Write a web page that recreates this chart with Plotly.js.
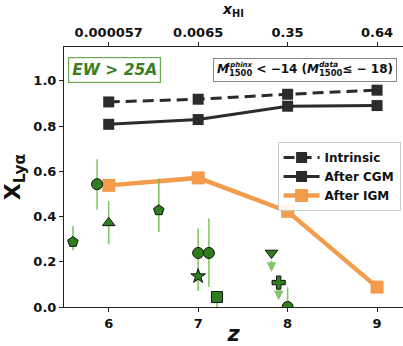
<!DOCTYPE html>
<html><head><meta charset="utf-8">
<script src="https://cdn.plot.ly/plotly-3.0.1.min.js"></script>
<style>html,body{margin:0;padding:0;background:#fff}#chart{width:403px;height:346px}</style>
</head><body><div id="chart"></div>
<script>
// ---- data ----
const zSim = [6, 7, 8, 9];
const intrinsic = [0.907, 0.919, 0.941, 0.959];
const afterCGM = [0.808, 0.829, 0.888, 0.891];
const afterIGM = [0.538, 0.571, 0.423, 0.088];
const topTickText = ["0.000057", "0.0065", "0.35", "0.64"];

const obsZ =     [5.60, 5.87, 6.00, 6.56, 7.00, 7.12, 7.00, 7.21, 7.82, 7.90, 8.00];
const obsX =     [0.288, 0.543, 0.372, 0.428, 0.239, 0.239, 0.136, 0.044, 0.239, 0.108, 0.000];
const obsErrUp = [0.069, 0.111, 0.097, 0.140, 0.108, 0.152, 0.000, 0.022, 0.000, 0.000, 0.087];
const obsErrDn = [0.037, 0.112, 0.095, 0.096, 0.168, 0.151, 0.000, 0.044, 0.000, 0.000, 0.000];
const obsSymbol = ["pentagon", "circle", "triangle-up", "pentagon", "circle", "circle", "star", "square", "triangle-down", "cross", "circle"];
// upper limits: [z, from, to]
const limZ = [7.82, 7.90];
const limFrom = [0.239, 0.108];
const limTo = [0.155, 0.030];

const FONT = "DejaVu Sans";
const green = "#2e7d1e";
const errGreen = "rgba(100,185,70,0.8)";
const orange = "#f39c4c";

const traces = [
  {x: zSim, y: intrinsic, name: "Intrinsic", mode: "lines+markers",
   line: {color: "#2b2b2b", width: 3, dash: "11px,6px"},
   marker: {symbol: "square", size: 11, color: "#2b2b2b"}},
  {x: zSim, y: afterCGM, name: "After CGM", mode: "lines+markers",
   line: {color: "#2b2b2b", width: 3},
   marker: {symbol: "square", size: 11, color: "#2b2b2b"}},
  {x: zSim, y: afterIGM, name: "After IGM", mode: "lines+markers",
   line: {color: orange, width: 4.5},
   marker: {symbol: "square", size: 13, color: orange}},
  {x: obsZ, y: obsX, mode: "markers", showlegend: false,
   error_y: {type: "data", symmetric: false, array: obsErrUp, arrayminus: obsErrDn,
             color: errGreen, thickness: 1.6, width: 0},
   marker: {symbol: obsSymbol, size: 11, color: green, line: {color: "#111", width: 1}}},
  {x: zSim, y: intrinsic, xaxis: "x2", mode: "markers", showlegend: false,
   marker: {opacity: 0}, hoverinfo: "skip"}
];

const annotations = [];
for (let i = 0; i < limZ.length; i++) {
  annotations.push({x: limZ[i], y: limTo[i], ax: limZ[i], ay: limFrom[i],
    xref: "x", yref: "y", axref: "x", ayref: "y", text: "", showarrow: true,
    arrowhead: 2, arrowsize: 1.2, arrowwidth: 1.6, arrowcolor: errGreen, startstandoff: 6});
}
annotations.push({xref: "paper", yref: "paper", x: 0.1504, y: 0.913, xanchor: "center", yanchor: "middle",
  text: "<b><i>EW > 25A</i></b>", showarrow: false,
  font: {family: FONT, size: 15.5, color: "#3b7d26"},
  bordercolor: "#6aaa55", borderwidth: 1.2, borderpad: 3, bgcolor: "#fff"});
annotations.push({xref: "paper", yref: "paper", x: 0.711, y: 0.912, xanchor: "center", yanchor: "middle",
  text: "<b><i>M</i><sub>1500</sub> < −14 (<i>M</i><sub>1500</sub>≤ − 18)</b>", showarrow: false,
  font: {family: FONT, size: 12, color: "#111"},
  bordercolor: "#888", borderwidth: 1, borderpad: 3, bgcolor: "#fff"});
annotations.push({xref: "paper", yref: "paper", x: 0.518, y: 0.931, xanchor: "center", yanchor: "middle",
  text: "<b><i>sphinx</i></b>", showarrow: false, font: {family: FONT, size: 7, color: "#111"}});
annotations.push({xref: "paper", yref: "paper", x: 0.779, y: 0.931, xanchor: "center", yanchor: "middle",
  text: "<b><i>data</i></b>", showarrow: false, font: {family: FONT, size: 7.5, color: "#111"}});

const tickFont = {family: FONT, size: 13, color: "#111", weight: "bold"};

const layout = {
  width: 403, height: 346,
  margin: {l: 64, r: 0, t: 47, b: 39},
  paper_bgcolor: "#fff", plot_bgcolor: "#fff",
  showlegend: true,
  legend: {x: 0.63, y: 0.635, xanchor: "left", yanchor: "top",
    font: {family: FONT, size: 12, color: "#111", weight: "bold"},
    bordercolor: "#ccc", borderwidth: 1, bgcolor: "rgba(255,255,255,0.9)",
    tracegroupgap: 0, itemwidth: 36},
  xaxis: {range: [5.5, 9.29], tickvals: zSim, ticktext: zSim.map(String),
    showgrid: false, zeroline: false, showline: true, linecolor: "#222", linewidth: 1,
    ticks: "outside", ticklen: 4, tickcolor: "#222", tickfont: tickFont,
    title: {text: "<b><i>z</i></b>", font: {family: FONT, size: 21, color: "#111"}, standoff: 4}},
  xaxis2: {overlaying: "x", side: "top", range: [5.5, 9.29], tickvals: zSim, ticktext: topTickText,
    showgrid: false, zeroline: false, showline: true, linecolor: "#222", linewidth: 1,
    ticks: "outside", ticklen: 4, tickcolor: "#222", tickfont: tickFont,
    title: {text: "<b><i>x</i><sub>HI</sub></b>", font: {family: FONT, size: 14, color: "#111"}, standoff: 6}},
  yaxis: {range: [0, 1.15], tickvals: [0, 0.2, 0.4, 0.6, 0.8, 1.0], tickformat: ".1f",
    showgrid: false, zeroline: false, showline: true, linecolor: "#222", linewidth: 1,
    ticks: "outside", ticklen: 4, tickcolor: "#222", tickfont: tickFont,
    title: {text: "<b>X<sub>Lyα</sub></b>", font: {family: FONT, size: 22, color: "#111"}, standoff: 8}},
  annotations: annotations
};

Plotly.newPlot("chart", traces, layout, {staticPlot: true, displayModeBar: false});
</script></body></html>
